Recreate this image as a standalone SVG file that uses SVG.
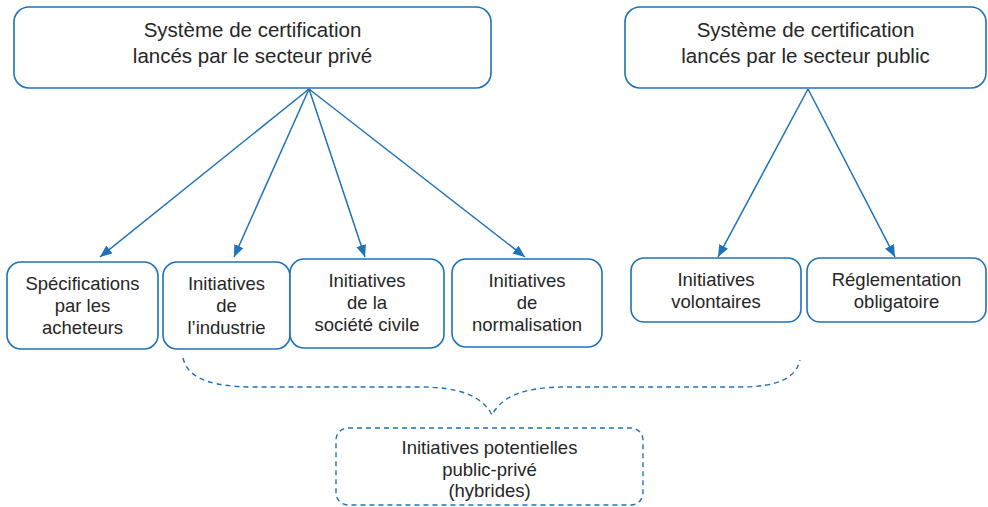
<svg xmlns="http://www.w3.org/2000/svg" width="988" height="507" viewBox="0 0 988 507">
<style>
.box{fill:#fff;stroke:#1f72b8;stroke-width:1.6}
.dbox{fill:#fff;stroke:#1f72b8;stroke-width:1.4;stroke-dasharray:5 4}
.t{font-family:"Liberation Sans",Arial,sans-serif;fill:#262626;text-anchor:middle}
.big{font-size:20.5px}
.sm{font-size:18.5px}
.conn{stroke:#1f72b8;stroke-width:1.5;fill:none}
.brace{stroke:#1f72b8;stroke-width:1.4;fill:none;stroke-dasharray:5 4}
</style>
<defs>
<marker id="ah" markerUnits="userSpaceOnUse" markerWidth="13" markerHeight="11" refX="12" refY="5" orient="auto">
<path d="M0,0 L12,5 L0,10 z" fill="#1f72b8"/>
</marker>
</defs>
<g id="connectors">
<line class="conn" x1="309" y1="89" x2="100" y2="257" marker-end="url(#ah)"/>
<line class="conn" x1="309" y1="89" x2="234" y2="257" marker-end="url(#ah)"/>
<line class="conn" x1="309" y1="89" x2="365" y2="257" marker-end="url(#ah)"/>
<line class="conn" x1="309" y1="89" x2="525" y2="257" marker-end="url(#ah)"/>
<line class="conn" x1="808" y1="89" x2="718" y2="257" marker-end="url(#ah)"/>
<line class="conn" x1="808" y1="89" x2="895" y2="257" marker-end="url(#ah)"/>
<path class="brace" d="M183,358 C188,380 215,387 255,387 L420,387 C460,387 482,396 492,415 C502,396 524,387 565,387 L740,387 C778,387 796,378 800,360"/>
</g>
<g id="private">
<rect class="box" x="14" y="7" width="477" height="81" rx="15"/>
<text class="t big" x="252.5" y="37">Système de certification</text>
<text class="t big" x="252.5" y="63">lancés par le secteur privé</text>
</g>
<g id="public">
<rect class="box" x="625" y="7" width="361" height="81" rx="15"/>
<text class="t big" x="805.5" y="37">Système de certification</text>
<text class="t big" x="805.5" y="63">lancés par le secteur public</text>
</g>
<g id="acheteurs">
<rect class="box" x="7" y="262" width="151" height="87" rx="14"/>
<text class="t sm" x="82.5" y="290">Spécifications</text>
<text class="t sm" x="82.5" y="312">par les</text>
<text class="t sm" x="82.5" y="334">acheteurs</text>
</g>
<g id="industrie">
<rect class="box" x="163" y="262" width="127" height="87" rx="14"/>
<text class="t sm" x="226.5" y="290">Initiatives</text>
<text class="t sm" x="226.5" y="312">de</text>
<text class="t sm" x="226.5" y="334">l’industrie</text>
</g>
<g id="societe">
<rect class="box" x="290" y="259" width="154" height="89" rx="14"/>
<text class="t sm" x="367" y="287">Initiatives</text>
<text class="t sm" x="367" y="309">de la</text>
<text class="t sm" x="367" y="331">société civile</text>
</g>
<g id="normalisation">
<rect class="box" x="452" y="259" width="150" height="88" rx="14"/>
<text class="t sm" x="527" y="287">Initiatives</text>
<text class="t sm" x="527" y="309">de</text>
<text class="t sm" x="527" y="331">normalisation</text>
</g>
<g id="volontaires">
<rect class="box" x="631" y="258" width="170" height="64" rx="13"/>
<text class="t sm" x="716" y="286">Initiatives</text>
<text class="t sm" x="716" y="308">volontaires</text>
</g>
<g id="reglementation">
<rect class="box" x="807" y="258" width="179" height="64" rx="13"/>
<text class="t sm" x="896.5" y="286">Réglementation</text>
<text class="t sm" x="896.5" y="308">obligatoire</text>
</g>
<g id="hybrides">
<rect class="dbox" x="336" y="428" width="307" height="77" rx="12"/>
<text class="t sm" x="489.5" y="454">Initiatives potentielles</text>
<text class="t sm" x="489.5" y="476">public-privé</text>
<text class="t sm" x="489.5" y="497">(hybrides)</text>
</g>
</svg>
